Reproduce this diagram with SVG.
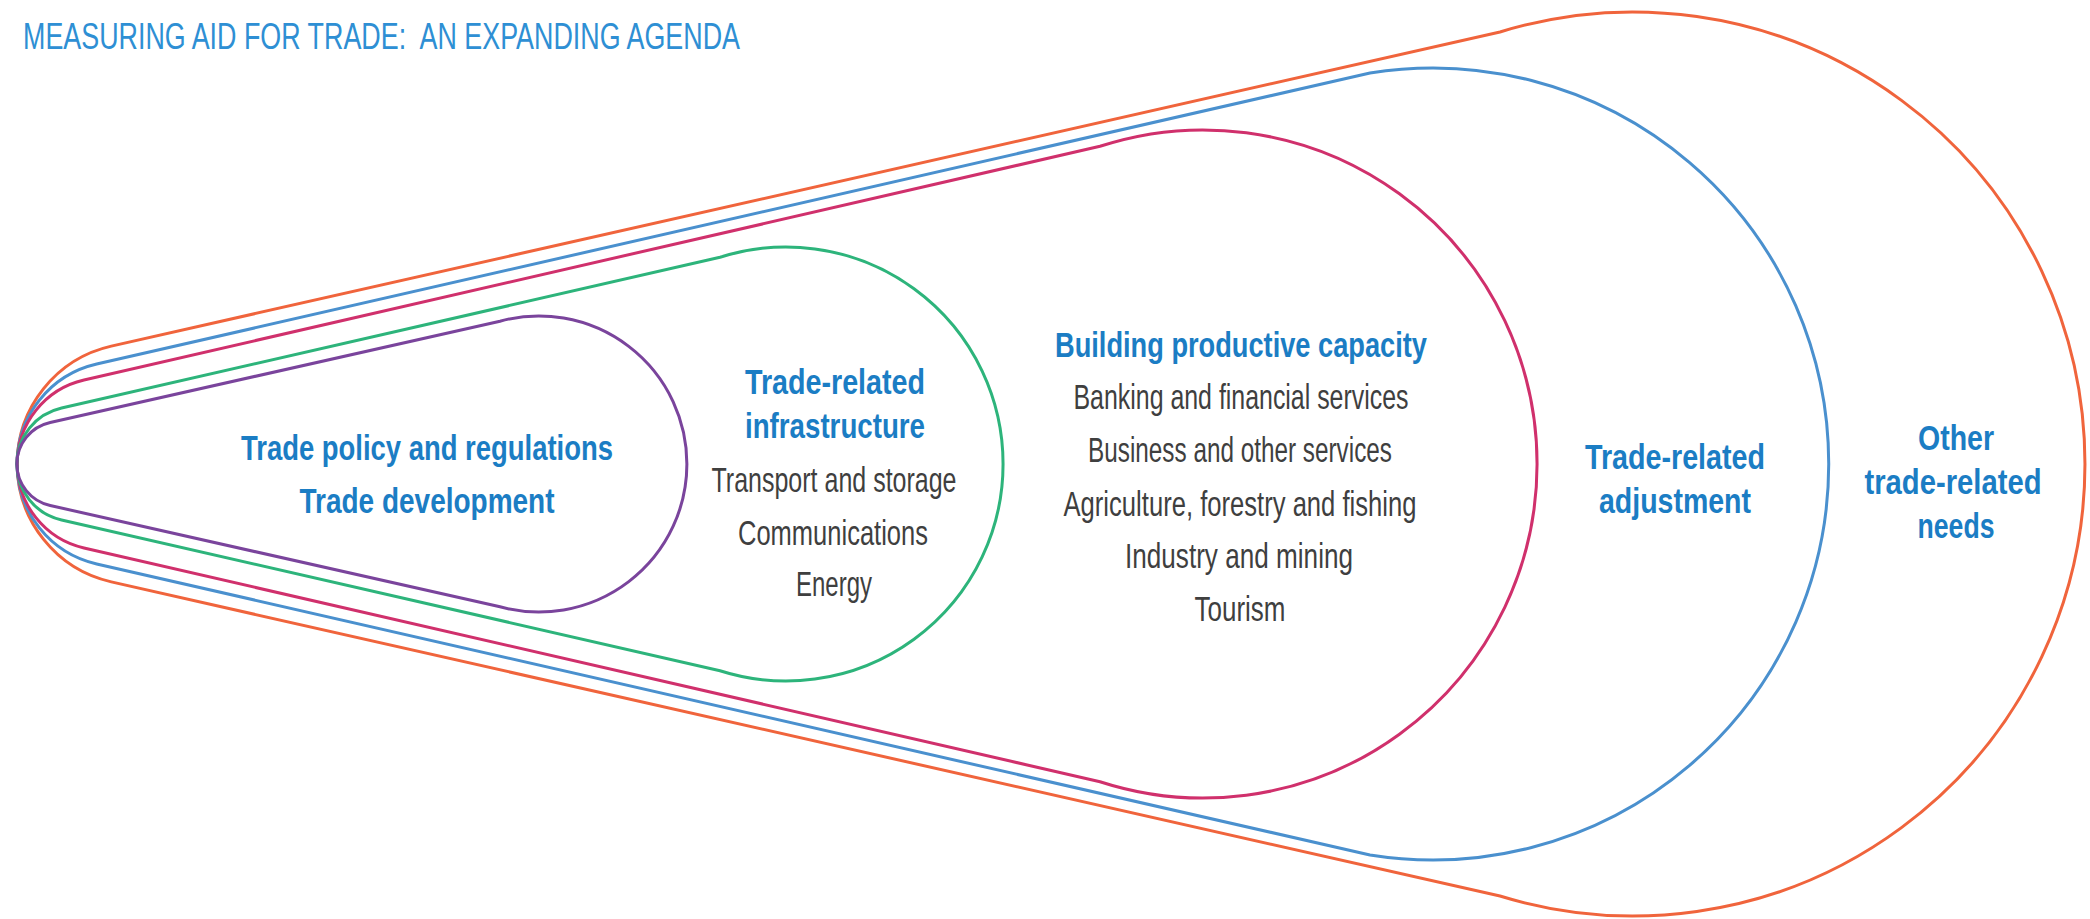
<svg xmlns="http://www.w3.org/2000/svg" width="2090" height="919" viewBox="0 0 2090 919">
<style>
  .shape { fill: none; stroke-width: 3; stroke-linejoin: round; }
  .t { font-family: "Liberation Sans", Arial, sans-serif; font-size: 35px; text-anchor: middle; }
  .h { font-weight: bold; fill: #1B7DC4; }
  .r { font-weight: normal; fill: #3F3F3F; }
  .title { font-family: "Liberation Sans", Arial, sans-serif; font-size: 37px; fill: #2E8FD4; }
</style>
<rect width="2090" height="919" fill="#FFFFFF"/>
<text class="title" x="23" y="49" textLength="717" lengthAdjust="spacingAndGlyphs" xml:space="preserve">MEASURING AID FOR TRADE:  AN EXPANDING AGENDA</text>

<g id="other-trade-related-needs">
  <path class="shape" stroke="#F0643C" d="M 111.3 346.1 L 1500 32 A 452 452 0 1 1 1500 896 L 111.3 581.9 A 120.9 120.9 0 0 1 111.3 346.1 Z"/>
  <text class="t h" x="1956" y="450" textLength="76" lengthAdjust="spacingAndGlyphs">Other</text>
  <text class="t h" x="1953" y="494" textLength="177" lengthAdjust="spacingAndGlyphs">trade-related</text>
  <text class="t h" x="1956" y="538" textLength="77" lengthAdjust="spacingAndGlyphs">needs</text>
</g>

<g id="trade-related-adjustment">
  <path class="shape" stroke="#4A90CE" d="M 96.7 364 L 1370 73 A 396 396 0 1 1 1370 855 L 96.7 564 A 102.6 102.6 0 0 1 96.7 364 Z"/>
  <text class="t h" x="1675" y="469" textLength="180" lengthAdjust="spacingAndGlyphs">Trade-related</text>
  <text class="t h" x="1675" y="513" textLength="152" lengthAdjust="spacingAndGlyphs">adjustment</text>
</g>

<g id="building-productive-capacity">
  <path class="shape" stroke="#D0306C" d="M 84 380 L 1100 146.3 A 334 334 0 1 1 1100 781.7 L 84 548 A 86.2 86.2 0 0 1 84 380 Z"/>
  <text class="t h" x="1241" y="357" textLength="372" lengthAdjust="spacingAndGlyphs">Building productive capacity</text>
  <text class="t r" x="1241" y="409" textLength="335" lengthAdjust="spacingAndGlyphs">Banking and financial services</text>
  <text class="t r" x="1240" y="462" textLength="304" lengthAdjust="spacingAndGlyphs">Business and other services</text>
  <text class="t r" x="1240" y="516" textLength="353" lengthAdjust="spacingAndGlyphs">Agriculture, forestry and fishing</text>
  <text class="t r" x="1239" y="568" textLength="228" lengthAdjust="spacingAndGlyphs">Industry and mining</text>
  <text class="t r" x="1240" y="621" textLength="91" lengthAdjust="spacingAndGlyphs">Tourism</text>
</g>

<g id="trade-related-infrastructure">
  <path class="shape" stroke="#2DB47B" d="M 61.6 408 L 720 257.3 A 217 217 0 1 1 720 670.7 L 61.6 520 A 57.4 57.4 0 0 1 61.6 408 Z"/>
  <text class="t h" x="835" y="394" textLength="180" lengthAdjust="spacingAndGlyphs">Trade-related</text>
  <text class="t h" x="835" y="438" textLength="180" lengthAdjust="spacingAndGlyphs">infrastructure</text>
  <text class="t r" x="834" y="492" textLength="245" lengthAdjust="spacingAndGlyphs">Transport and storage</text>
  <text class="t r" x="833" y="545" textLength="190" lengthAdjust="spacingAndGlyphs">Communications</text>
  <text class="t r" x="834" y="596" textLength="76" lengthAdjust="spacingAndGlyphs">Energy</text>
</g>

<g id="trade-policy-and-development">
  <path class="shape" stroke="#7A449C" d="M 50.2 422.5 L 500 321.2 A 148 148 0 1 1 500 606.8 L 50.2 505.5 A 42.5 42.5 0 0 1 50.2 422.5 Z"/>
  <text class="t h" x="427" y="460" textLength="372" lengthAdjust="spacingAndGlyphs">Trade policy and regulations</text>
  <text class="t h" x="427" y="513" textLength="255" lengthAdjust="spacingAndGlyphs">Trade development</text>
</g>

<g id="connectors"></g>
</svg>
